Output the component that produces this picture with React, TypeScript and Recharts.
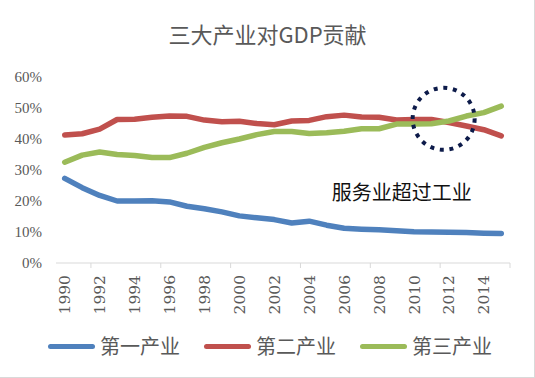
import { LineChart, Line, XAxis, YAxis, ReferenceDot } from 'recharts';

const title = '三大产业对GDP贡献';
const note = '服务业超过工业';
const seriesNames = ['第一产业', '第二产业', '第三产业'];
const seriesColors = ['#4f81bd', '#c0504d', '#9bbb59'];

const years = [
  1990, 1991, 1992, 1993, 1994, 1995, 1996, 1997, 1998, 1999, 2000, 2001, 2002,
  2003, 2004, 2005, 2006, 2007, 2008, 2009, 2010, 2011, 2012, 2013, 2014, 2015,
];
const primary = [
  27.3, 24.3, 21.8, 20.0, 20.0, 20.1, 19.7, 18.3, 17.5, 16.5, 15.2, 14.6, 14.0,
  12.9, 13.5, 12.2, 11.2, 10.9, 10.7, 10.4, 10.1, 10.0, 9.9, 9.8, 9.6, 9.5,
];
const secondary = [
  41.3, 41.7, 43.2, 46.3, 46.4, 47.0, 47.4, 47.3, 46.1, 45.6, 45.7, 45.0, 44.6,
  45.8, 46.0, 47.2, 47.7, 47.1, 47.0, 46.1, 46.3, 46.3, 45.3, 44.2, 43.0, 41.0,
];
const tertiary = [
  32.5, 34.8, 35.8, 35.0, 34.7, 34.0, 34.0, 35.4, 37.3, 38.8, 40.0, 41.4, 42.4,
  42.4, 41.8, 42.0, 42.5, 43.3, 43.3, 44.8, 44.8, 44.9, 45.8, 47.4, 48.5, 50.6,
];

const yTicks = [0, 10, 20, 30, 40, 50, 60];
const yearLabels = [1990, 1992, 1994, 1996, 1998, 2000, 2002, 2004, 2006, 2008, 2010, 2012, 2014];
// tick marks sit between categories, like Excel
const boundaries = [
  1989.5, 1991.5, 1993.5, 1995.5, 1997.5, 1999.5, 2001.5, 2003.5, 2005.5,
  2007.5, 2009.5, 2011.5, 2013.5, 2015.5,
];
// where services overtook industry
const crossYear = 2011.7;
const crossValue = 46.5;
const noteYear = 2009.3;
const noteValue = 22.6;

const data = years.map((year, i) => ({
  year,
  primary: primary[i],
  secondary: secondary[i],
  tertiary: tertiary[i],
}));

const keys = ['primary', 'secondary', 'tertiary'];
const grey = '#595959';
const cjk = "'Noto Sans CJK SC', sans-serif";

function YearTick({ x, y, payload }: { x: number; y: number; payload: { value: number } }) {
  return (
    <text
      x={x}
      y={y}
      transform={`rotate(-90 ${x} ${y})`}
      textAnchor="end"
      dy="0.36em"
      fill={grey}
      fontSize={15.5}
      fontFamily="'DejaVu Serif', serif"
    >
      {payload.value}
    </text>
  );
}

export default function App() {
  return (
    <div
      style={{
        position: 'absolute',
        left: 0,
        top: 0,
        width: 535,
        height: 378,
        boxSizing: 'border-box',
        borderRight: '1px solid #d9d9d9',
        borderBottom: '1px solid #d9d9d9',
        background: '#fff',
      }}
    >
      <div
        style={{
          position: 'absolute',
          top: 21,
          left: 0,
          width: 535,
          textAlign: 'center',
          fontFamily: cjk,
          fontSize: 22,
          lineHeight: '24px',
          color: grey,
        }}
      >
        {title}
      </div>
      <LineChart width={535} height={378} data={data} margin={{ top: 77, right: 25, left: 0, bottom: 65 }}>
        <XAxis
          xAxisId="bounds"
          type="number"
          dataKey="year"
          domain={[1989.5, 2015.5]}
          ticks={boundaries}
          height={6}
          stroke="#d9d9d9"
          tickSize={5}
          tick={() => <g />}
          allowDataOverflow
        />
        <XAxis
          xAxisId="years"
          type="number"
          dataKey="year"
          domain={[1989.5, 2015.5]}
          ticks={yearLabels}
          height={44}
          axisLine={false}
          tickLine={false}
          tickSize={0}
          tickMargin={6}
          interval={0}
          tick={YearTick}
          allowDataOverflow
        />
        <YAxis
          domain={[0, 60]}
          ticks={yTicks}
          width={56}
          axisLine={false}
          tickLine={false}
          tickSize={0}
          tickMargin={14}
          tickFormatter={(v: number) => `${v}%`}
          tick={{ fill: grey, fontSize: 15, fontFamily: "'Liberation Serif', serif" }}
        />
        {keys.map((k, i) => (
          <Line
            key={k}
            xAxisId="years"
            dataKey={k}
            name={seriesNames[i]}
            stroke={seriesColors[i]}
            strokeWidth={5.5}
            strokeLinecap="round"
            strokeLinejoin="round"
            dot={false}
            isAnimationActive={false}
          />
        ))}
        <ReferenceDot
          xAxisId="years"
          x={crossYear}
          y={crossValue}
          r={31}
          fill="none"
          stroke="#0d1b4a"
          strokeWidth={4}
          strokeDasharray="4 5.7"
        />
        <ReferenceDot
          xAxisId="years"
          x={noteYear}
          y={noteValue}
          r={0}
          fill="none"
          stroke="none"
          label={{ value: note, position: 'center', fill: '#111', fontSize: 20, fontFamily: cjk }}
        />
      </LineChart>
      <div
        style={{
          position: 'absolute',
          top: 334,
          left: 48,
          display: 'flex',
          gap: 24,
          fontFamily: cjk,
          fontSize: 20,
          lineHeight: '24px',
          color: grey,
        }}
      >
        {seriesNames.map((name, i) => (
          <div key={name} style={{ display: 'flex', alignItems: 'center' }}>
            <span
              style={{
                display: 'inline-block',
                width: 47,
                height: 5,
                borderRadius: 3,
                background: seriesColors[i],
                marginRight: 5,
              }}
            />
            <span>{name}</span>
          </div>
        ))}
      </div>
    </div>
  );
}
